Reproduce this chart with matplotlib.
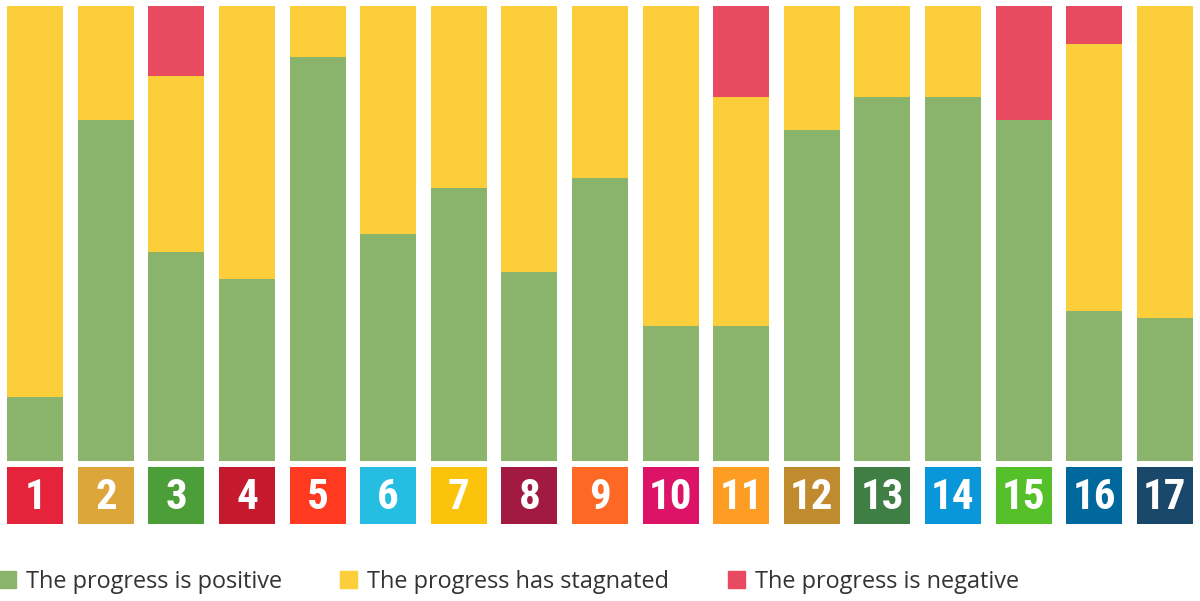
import matplotlib
matplotlib.use("Agg")
import matplotlib.pyplot as plt
from matplotlib.patches import Patch
from matplotlib import font_manager

# SDG goals 1..17, share of indicators (%) by trend
goals = [str(i) for i in range(1, 18)]
positive = [14.1, 74.9, 46.0, 39.9, 88.8, 50.0, 59.9, 41.6, 62.3, 29.7, 29.7, 72.7, 80.0, 80.0, 74.9, 33.0, 31.5]
negative = [0, 0, 15.4, 0, 0, 0, 0, 0, 0, 0, 20.0, 0, 0, 0, 25.1, 8.4, 0]
stagnated = [100 - p - n for p, n in zip(positive, negative)]

goal_colors = ["#E5243B", "#DDA63A", "#4C9F38", "#C5192D", "#FF3A21", "#26BDE2",
               "#FCC30B", "#A21942", "#FD6925", "#DD1367", "#FD9D24", "#BF8B2E",
               "#3F7E44", "#0A97D9", "#56C02B", "#00689D", "#19486A"]

green = "#8AB46C"
yellow = "#FBCE3A"
red = "#E84A5F"

# look for a narrow bold face for the tile numbers
narrow = None
for f in font_manager.fontManager.ttflist:
    if f.weight in (700, "bold") and ("ondensed" in f.fname or "Narrow" in f.fname):
        narrow = f.fname
        if "Noto" in f.fname or "Roboto" in f.fname:
            break
num_font = font_manager.FontProperties(fname=narrow, size=31) if narrow else \
    font_manager.FontProperties(family="DejaVu Sans", weight="bold", size=27)

W, H = 1200, 601
fig = plt.figure(figsize=(W / 100, H / 100), dpi=100)

x = list(range(len(goals)))
bw = 0.794

# stacked bars
ax = fig.add_axes([0, 1 - 461 / H, 1, (461 - 6) / H])
ax.bar(x, positive, bw, color=green)
ax.bar(x, stagnated, bw, bottom=positive, color=yellow)
ax.bar(x, negative, bw, bottom=[p + s for p, s in zip(positive, stagnated)], color=red)
ax.set_xlim(-0.5, 16.5)
ax.set_ylim(0, 100)
ax.axis("off")

# goal tiles
ax2 = fig.add_axes([0, 1 - 524 / H, 1, 57 / H])
ax2.bar(x, [1] * len(goals), bw, color=goal_colors)
for i, g in enumerate(goals):
    ax2.text(i, 0.47, g, ha="center", va="center", color="white", fontproperties=num_font)
ax2.set_xlim(-0.5, 16.5)
ax2.set_ylim(0, 1)
ax2.axis("off")

handles = [Patch(color=green, label="The progress is positive"),
           Patch(color=yellow, label="The progress has stagnated"),
           Patch(color=red, label="The progress is negative")]
fig.legend(handles=handles, loc="center left", bbox_to_anchor=(-0.001, 1 - 582 / H),
           ncol=3, frameon=False, borderaxespad=0, borderpad=0,
           prop={"family": "Open Sans", "size": 16.9}, labelcolor="#333333",
           handlelength=0.72, handleheight=0.72, handletextpad=0.42, columnspacing=2.5)

fig.savefig("out.png", dpi=100)
